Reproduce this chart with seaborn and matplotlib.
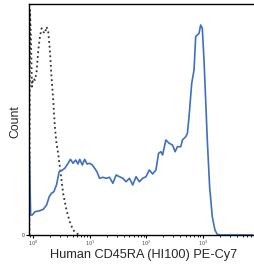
import numpy as np
import pandas as pd
import seaborn as sns
import matplotlib.pyplot as plt
from matplotlib.ticker import LogLocator, FixedLocator

# stained sample (blue), log10 of fluorescence and count
stain_log = [-0.064, -0.041, -0.012, 0.035, 0.123, 0.181, 0.240, 0.287, 0.327, 0.368,
             0.415, 0.462, 0.503, 0.561, 0.620, 0.661, 0.708, 0.754, 0.795, 0.825,
             0.871, 0.912, 0.953, 1.000, 1.047, 1.088, 1.129, 1.175, 1.234, 1.292,
             1.351, 1.409, 1.468, 1.526, 1.585, 1.643, 1.702, 1.760, 1.819, 1.877,
             1.936, 1.994, 2.053, 2.111, 2.170, 2.216, 2.257, 2.287, 2.345, 2.404,
             2.462, 2.509, 2.549, 2.608, 2.637, 2.696, 2.725, 2.754, 2.801, 2.842,
             2.871, 2.900, 2.930, 2.959, 2.988, 3.018, 3.047, 3.076, 3.117, 3.164,
             3.211, 3.251, 3.310, 3.877]
stain_count = [83.3, 20, 20, 23.3, 24.3, 25.7, 30, 38.3, 41.7, 43.3,
               50, 63.3, 64.3, 66.7, 71.7, 75.7, 71.7, 75, 71, 75.7,
               70, 75.7, 71, 71.7, 70, 66.7, 63.3, 56.7, 57.7, 56.7,
               57.7, 51.7, 60, 58.3, 56.7, 53.3, 56.7, 50, 58.3, 53.3,
               56.7, 58.3, 65, 61, 65, 81.7, 83.3, 80, 95, 91.7,
               90, 83.3, 88.3, 88.3, 95, 98.3, 101.7, 118.3, 151.7, 165,
               198.3, 200, 201.7, 210, 206.7, 175, 135, 95, 48.3, 18.3,
               5, 0.7, 0, 0]

# unstained control (dotted)
ctrl_log = [-0.064, -0.053, -0.035, -0.018, 0.006, 0.035, 0.064, 0.094, 0.123, 0.152,
            0.181, 0.211, 0.240, 0.269, 0.298, 0.327, 0.357, 0.386, 0.415, 0.444,
            0.474, 0.503, 0.532, 0.591, 0.649, 0.708, 0.766, 0.825]
ctrl_count = [0, 225, 195, 148.3, 156.7, 155, 163.3, 185, 198.3, 206.7,
              203.3, 201.7, 208.3, 203.3, 185, 158.3, 135, 108.3, 91.7, 81.7,
              68.3, 55, 41.7, 25, 13.3, 5, 1.7, 0]

stain = pd.DataFrame({'x': 10 ** np.array(stain_log), 'count': stain_count})
ctrl = pd.DataFrame({'x': 10 ** np.array(ctrl_log), 'count': ctrl_count})

sns.set_style('ticks')
plt.rcParams['font.family'] = ['Liberation Sans', 'DejaVu Sans']

fig = plt.figure(figsize=(2.54, 2.65), dpi=100)
ax = fig.add_axes([29 / 254, 1 - 235 / 265, 1 - 29 / 254, 231 / 265])

sns.lineplot(data=ctrl, x='x', y='count', ax=ax, sort=False, estimator=None,
             color='#333333', linestyle=':', linewidth=1.3)
sns.lineplot(data=stain, x='x', y='count', ax=ax, sort=False, estimator=None,
             color='#3e6fc2', linewidth=1.2)

ax.set_xscale('log')
ax.set_xlim(10 ** -0.07, 10 ** 3.9)
ax.set_ylim(0, 231)
ax.xaxis.set_major_locator(FixedLocator([1, 10, 100, 1000]))
ax.set_xticklabels(['$10^0$', '$10^1$', '$10^2$', '$10^3$'], fontsize=3.5, color='#444444')
ax.xaxis.set_minor_locator(LogLocator(base=10, subs=np.arange(2, 10)))
ax.xaxis.set_minor_formatter(plt.NullFormatter())
ax.set_yticks([0])
ax.set_yticklabels(['0'], fontsize=3.5)
ax.tick_params(axis='both', which='major', length=2, width=0.8, pad=1, color='black')
ax.tick_params(axis='x', which='minor', length=1.5, width=0.6, color='black')

ax.spines['right'].set_visible(False)
for s in ['top', 'left', 'bottom']:
    ax.spines[s].set_linewidth(1.0)
    ax.spines[s].set_color('black')

ax.set_xlabel('Human CD45RA (HI100) PE-Cy7', fontsize=9.2)
ax.xaxis.set_label_coords(0.511, -0.062)
ax.set_ylabel('Count', fontsize=8.8)
ax.yaxis.set_label_coords(-0.035, 0.49)

fig.savefig('out.png', dpi=100)
